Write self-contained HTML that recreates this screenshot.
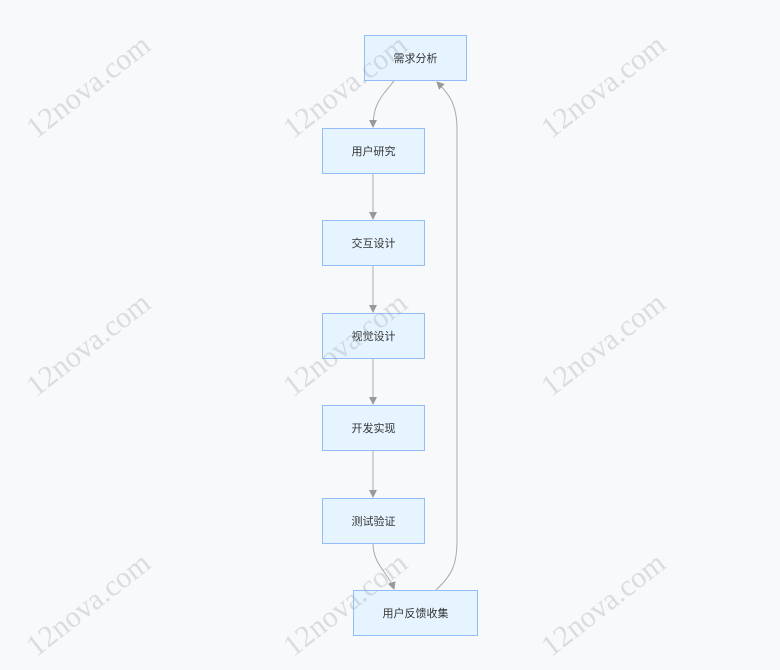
<!DOCTYPE html>
<html><head><meta charset="utf-8"><style>
body{margin:0;width:780px;height:670px;background:#f8f9fb;overflow:hidden;position:relative;font-family:"Liberation Sans","Noto Sans CJK SC",sans-serif}
.wm{position:absolute;z-index:5;font-family:"Liberation Serif",serif;font-size:30px;color:rgba(160,165,175,0.35);transform:rotate(-38deg);white-space:nowrap}
.n{position:absolute;box-sizing:border-box;background:#e6f4ff;border:1.5px solid #91bdfa;display:flex;align-items:center;justify-content:center;font-size:11px;color:#333;height:46px}
</style></head><body>
<svg width="780" height="670" style="position:absolute;left:0;top:0">
<defs><marker id="a" markerWidth="8" markerHeight="8" refX="7" refY="4" orient="auto"><path d="M0,0L8,4L0,8z" fill="#999"/></marker></defs>
<g fill="none" stroke="#aaa" stroke-width="1">
<path d="M394,81 C380,98 373,105 373,127" marker-end="url(#a)"/>
<path d="M373,173 L373,219" marker-end="url(#a)"/>
<path d="M373,266 L373,312" marker-end="url(#a)"/>
<path d="M373,358 L373,404" marker-end="url(#a)"/>
<path d="M373,451 L373,497" marker-end="url(#a)"/>
<path d="M373,543 C373,565 388,572 394,589" marker-end="url(#a)"/>
<path d="M436,590 C452,575 457,565 457,540 L457,130 C457,105 450,95 437,82" marker-end="url(#a)"/>
</g></svg>
<div class="n" style="left:364px;top:35px;width:103px">需求分析</div>
<div class="n" style="left:322px;top:128px;width:103px">用户研究</div>
<div class="n" style="left:322px;top:220px;width:103px">交互设计</div>
<div class="n" style="left:322px;top:313px;width:103px">视觉设计</div>
<div class="n" style="left:322px;top:405px;width:103px">开发实现</div>
<div class="n" style="left:322px;top:498px;width:103px">测试验证</div>
<div class="n" style="left:353px;top:590px;width:125px">用户反馈收集</div>
<div class="wm" style="left:15px;top:70px">12nova.com</div>
<div class="wm" style="left:272px;top:70px">12nova.com</div>
<div class="wm" style="left:530px;top:70px">12nova.com</div>
<div class="wm" style="left:15px;top:328px">12nova.com</div>
<div class="wm" style="left:272px;top:328px">12nova.com</div>
<div class="wm" style="left:530px;top:328px">12nova.com</div>
<div class="wm" style="left:15px;top:588px">12nova.com</div>
<div class="wm" style="left:272px;top:588px">12nova.com</div>
<div class="wm" style="left:530px;top:588px">12nova.com</div>
</body></html>
